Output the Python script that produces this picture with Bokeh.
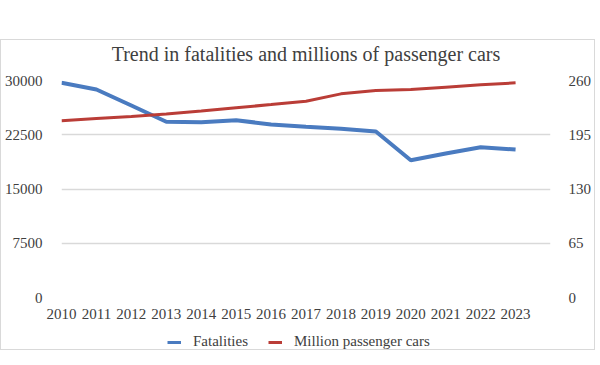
from bokeh.plotting import figure
from bokeh.models import (Range1d, LinearAxis, FixedTicker, Legend, LegendItem,
                          Spacer, ColumnDataSource, Label)
from bokeh.layouts import column
from bokeh.embed import file_html
from bokeh.resources import INLINE

years = [2010, 2011, 2012, 2013, 2014, 2015, 2016, 2017, 2018, 2019, 2020, 2021, 2022, 2023]
fatalities = [29680, 28760, 26540, 24290, 24240, 24510, 23920, 23600, 23320, 22950,
              18980, 19910, 20780, 20460]
million_cars = [211.7, 214.5, 217.0, 219.8, 223.4, 227.3, 231.2, 235.2, 244.0, 248.0,
                249.2, 252.0, 254.8, 257.2]
left_ticks = [0, 7500, 15000, 22500, 30000]
right_ticks = [0, 65, 130, 195, 260]
title_text = "Trend in fatalities and millions of passenger cars"

FONT = "Liberation Serif"
TXT = "#404040"
BLUE = "#4A7BC0"
RED = "#BA3D37"
W = 593

src = ColumnDataSource(dict(year=years, fat=fatalities, cars=million_cars))

# ---- title strip ----
tf = figure(width=W, height=30, output_backend="svg", toolbar_location=None,
            x_axis_type=None, y_axis_type=None,
            x_range=Range1d(0, 1), y_range=Range1d(0, 1),
            min_border=0, min_border_left=0, min_border_right=0,
            min_border_top=0, min_border_bottom=0)
tf.outline_line_color = None
tf.border_fill_color = "white"
tf.xgrid.grid_line_color = None
tf.ygrid.grid_line_color = None
tf.add_layout(Label(x=0.5, y=0.55, text=title_text, text_align="center",
                    text_baseline="middle", text_font=FONT, text_font_size="20px",
                    text_color=TXT))

# ---- main chart ----
p = figure(width=W, height=255, output_backend="svg", toolbar_location=None,
           x_range=Range1d(2010, 2024), y_range=Range1d(0, 30000),
           min_border_left=54, min_border_right=42, min_border_top=10, min_border_bottom=28)
p.extra_y_ranges = {"cars": Range1d(0, 260)}
p.outline_line_color = None
p.background_fill_color = "white"
p.border_fill_color = "white"

def style_axis(ax, standoff):
    ax.axis_line_color = None
    ax.major_tick_line_color = None
    ax.minor_tick_line_color = None
    ax.major_tick_in = 0
    ax.major_tick_out = 0
    ax.minor_tick_in = 0
    ax.minor_tick_out = 0
    ax.major_label_text_font = FONT
    ax.major_label_text_font_size = "15px"
    ax.major_label_text_color = TXT
    ax.major_label_standoff = standoff

p.xaxis.ticker = FixedTicker(ticks=years)
style_axis(p.xaxis[0], 11)
p.yaxis.ticker = FixedTicker(ticks=left_ticks)
style_axis(p.yaxis[0], 19)

right = LinearAxis(y_range_name="cars", ticker=FixedTicker(ticks=right_ticks))
style_axis(right, 18)
p.add_layout(right, "right")

p.xgrid.grid_line_color = None
p.ygrid.ticker = FixedTicker(ticks=left_ticks)
p.ygrid.grid_line_color = "#d9d9d9"
p.ygrid.grid_line_width = 1.5

p.line("year", "fat", source=src, line_color=BLUE, line_width=4)
p.line("year", "cars", source=src, y_range_name="cars", line_color=RED, line_width=3)

# ---- legend strip (separate figure so the legend is not clipped) ----
lf = figure(width=W, height=24, output_backend="svg", toolbar_location=None,
            x_axis_type=None, y_axis_type=None,
            x_range=Range1d(2010, 2024), y_range=Range1d(-2, -1),
            min_border=0)
lf.outline_line_color = None
lf.border_fill_color = "white"
lf.xgrid.grid_line_color = None
lf.ygrid.grid_line_color = None
l_fat = lf.line("year", "fat", source=src, line_color=BLUE, line_width=3)
l_cars = lf.line("year", "cars", source=src, line_color=RED, line_width=3)

legend = Legend(items=[LegendItem(label="Fatalities", renderers=[l_fat]),
                       LegendItem(label="Million passenger cars", renderers=[l_cars])],
                orientation="horizontal", location=(106, -1))
legend.padding = 0
legend.margin = 0
legend.spacing = 20
legend.glyph_width = 14
legend.glyph_height = 12
legend.label_height = 12
legend.label_standoff = 12
legend.label_text_font = FONT
legend.label_text_font_size = "15px"
legend.label_text_color = TXT
legend.border_line_color = None
legend.background_fill_alpha = 0
lf.add_layout(legend, "center")

inner = column(tf, p, lf, spacing=0)
inner.styles = {"border": "1px solid #d9d9d9"}
layout = column(Spacer(height=39, width=W), inner)

open("out.html", "w").write(file_html(layout, INLINE))
